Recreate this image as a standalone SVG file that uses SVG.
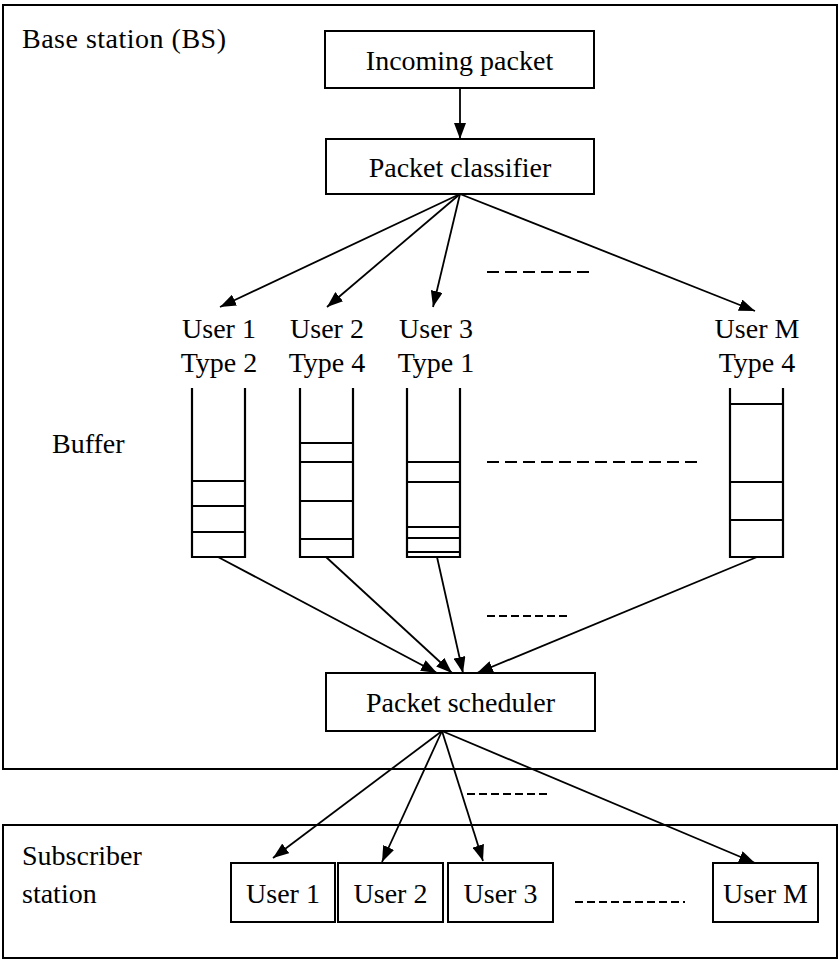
<svg xmlns="http://www.w3.org/2000/svg" width="839" height="961" viewBox="0 0 839 961">
  <defs>
    <marker id="arrow" viewBox="0 0 16 12" refX="16" refY="6" markerWidth="16" markerHeight="12" markerUnits="userSpaceOnUse" orient="auto">
      <path d="M0,0 L16,6 L0,12 Z" fill="#000"/>
    </marker>
  </defs>
  <style>
    text { font-family: "Liberation Serif", "Times New Roman", serif; font-size: 28px; fill: #000; }
    .mid { text-anchor: middle; }
    .frame { fill: none; stroke: #000; stroke-width: 2; }
    .box { fill: #fff; stroke: #000; stroke-width: 2; }
    .buf { fill: none; stroke: #000; stroke-width: 2.2; }
    .slot { stroke: #000; stroke-width: 1.8; }
    .edge { fill: none; stroke: #000; stroke-width: 1.8; marker-end: url(#arrow); }
    .dots { fill: none; stroke: #000; stroke-width: 2; stroke-dasharray: 12 6; }
    .dots2 { fill: none; stroke: #000; stroke-width: 2; stroke-dasharray: 8 4; }
  </style>
  <rect width="839" height="961" fill="#fff"/>

  <!-- Base station frame -->
  <g id="base-station">
    <rect class="frame" x="3" y="5" width="834" height="764"/>
    <text x="22" y="48" textLength="204">Base station (BS)</text>
  </g>

  <!-- Subscriber station frame -->
  <g id="subscriber-station">
    <rect class="frame" x="3" y="825" width="834" height="133"/>
    <text x="22" y="865">Subscriber</text>
    <text x="22" y="903">station</text>
  </g>

  <g id="incoming-packet">
    <rect class="box" x="325" y="31" width="269" height="57"/>
    <text class="mid" x="459.5" y="70">Incoming packet</text>
  </g>

  <g id="packet-classifier">
    <rect class="box" x="326" y="139" width="268" height="55"/>
    <text class="mid" x="460" y="177">Packet classifier</text>
  </g>

  <g id="buffer-label">
    <text x="52" y="453">Buffer</text>
  </g>

  <!-- Per-user queues: open top, stacked packet slots -->
  <g id="queue-user1">
    <text class="mid" x="219" y="338">User 1</text>
    <text class="mid" x="219" y="372">Type 2</text>
    <path class="buf" d="M192,388 V557 H245 V388"/>
    <line class="slot" x1="192" y1="481" x2="245" y2="481"/>
    <line class="slot" x1="192" y1="506" x2="245" y2="506"/>
    <line class="slot" x1="192" y1="532" x2="245" y2="532"/>
  </g>

  <g id="queue-user2">
    <text class="mid" x="327" y="338">User 2</text>
    <text class="mid" x="327" y="372">Type 4</text>
    <path class="buf" d="M300,388 V557 H353 V388"/>
    <line class="slot" x1="300" y1="443" x2="353" y2="443"/>
    <line class="slot" x1="300" y1="462" x2="353" y2="462"/>
    <line class="slot" x1="300" y1="501" x2="353" y2="501"/>
    <line class="slot" x1="300" y1="539" x2="353" y2="539"/>
  </g>

  <g id="queue-user3">
    <text class="mid" x="436" y="338">User 3</text>
    <text class="mid" x="436" y="372">Type 1</text>
    <path class="buf" d="M407,388 V557 H460 V388"/>
    <line class="slot" x1="407" y1="462" x2="460" y2="462"/>
    <line class="slot" x1="407" y1="482" x2="460" y2="482"/>
    <line class="slot" x1="407" y1="527" x2="460" y2="527"/>
    <line class="slot" x1="407" y1="538" x2="460" y2="538"/>
    <line class="slot" x1="407" y1="552" x2="460" y2="552"/>
  </g>

  <g id="queue-userM">
    <text class="mid" x="757" y="338">User M</text>
    <text class="mid" x="757" y="372">Type 4</text>
    <path class="buf" d="M730,388 V557 H783 V388"/>
    <line class="slot" x1="730" y1="404" x2="783" y2="404"/>
    <line class="slot" x1="730" y1="482" x2="783" y2="482"/>
    <line class="slot" x1="730" y1="520" x2="783" y2="520"/>
  </g>

  <g id="packet-scheduler">
    <rect class="box" x="326" y="673" width="269" height="58"/>
    <text class="mid" x="460.5" y="712">Packet scheduler</text>
  </g>

  <g id="ss-user1">
    <rect class="box" x="231" y="863" width="104" height="59"/>
    <text class="mid" x="283" y="903">User 1</text>
  </g>
  <g id="ss-user2">
    <rect class="box" x="338" y="863" width="105" height="59"/>
    <text class="mid" x="390.5" y="903">User 2</text>
  </g>
  <g id="ss-user3">
    <rect class="box" x="448" y="863" width="105" height="59"/>
    <text class="mid" x="500.5" y="903">User 3</text>
  </g>
  <g id="ss-userM">
    <rect class="box" x="713" y="863" width="105" height="59"/>
    <text class="mid" x="765.5" y="903">User M</text>
  </g>

  <!-- Ellipsis dashes for the omitted users -->
  <g id="ellipses">
    <line class="dots" x1="487" y1="272" x2="593" y2="272"/>
    <line class="dots" x1="487" y1="462" x2="702" y2="462"/>
    <line class="dots2" x1="487" y1="616" x2="568" y2="616"/>
    <line class="dots2" x1="467" y1="794" x2="550" y2="794"/>
    <line class="dots2" x1="575" y1="902" x2="685" y2="902"/>
  </g>

  <g id="connectors">
    <line class="edge" x1="460" y1="88" x2="460" y2="139"/>
    <line class="edge" x1="460" y1="194" x2="220" y2="307"/>
    <line class="edge" x1="460" y1="194" x2="327" y2="307"/>
    <line class="edge" x1="460" y1="194" x2="433" y2="307"/>
    <line class="edge" x1="460" y1="194" x2="755" y2="311"/>
    <line class="edge" x1="218" y1="557" x2="437" y2="673"/>
    <line class="edge" x1="326" y1="557" x2="452" y2="673"/>
    <line class="edge" x1="437" y1="557" x2="463" y2="673"/>
    <line class="edge" x1="757" y1="557" x2="477" y2="673"/>
    <line class="edge" x1="442" y1="731" x2="273" y2="858"/>
    <line class="edge" x1="442" y1="731" x2="382" y2="862"/>
    <line class="edge" x1="442" y1="731" x2="483" y2="861"/>
    <line class="edge" x1="442" y1="731" x2="755" y2="863"/>
  </g>
</svg>
